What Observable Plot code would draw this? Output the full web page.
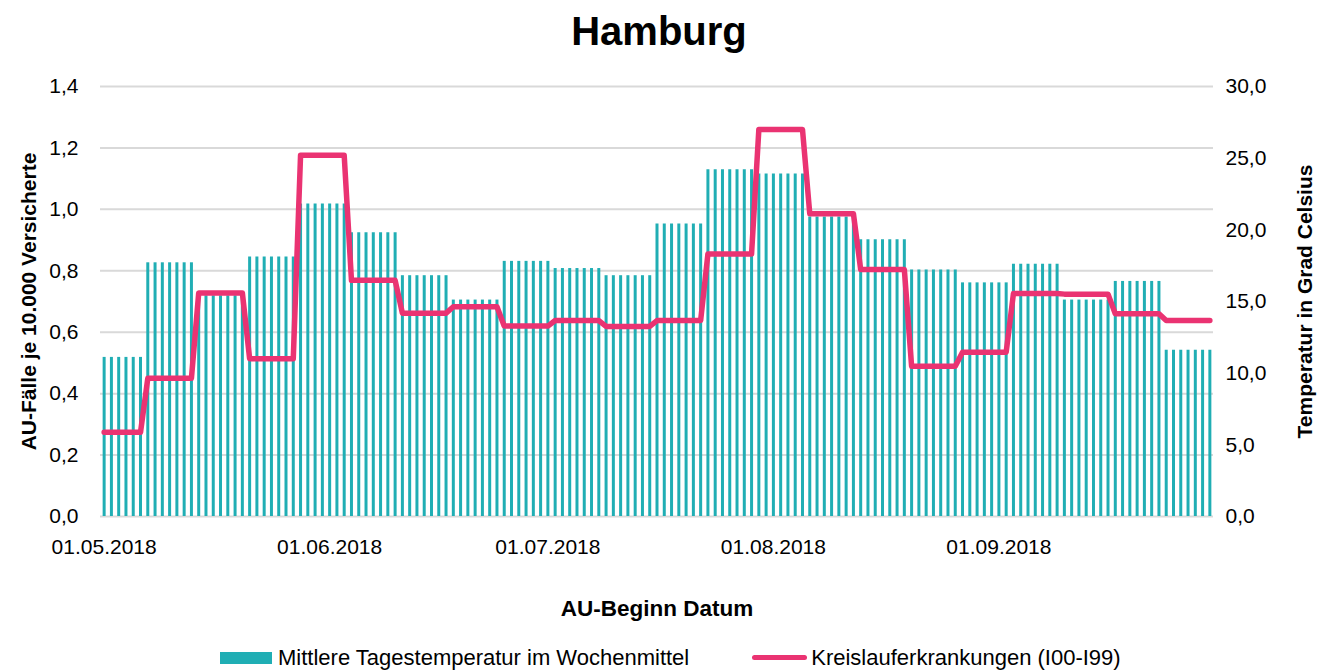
<!DOCTYPE html>
<html><head><meta charset="utf-8">
<script src="https://cdn.jsdelivr.net/npm/d3@7"></script>
<script src="https://cdn.jsdelivr.net/npm/@observablehq/plot@0.6"></script>
<style>
body{margin:0;background:#fff;font-family:"Liberation Sans",Arial,sans-serif;color:#000;}
#title{height:60px;text-align:center;font-weight:bold;font-size:40px;line-height:62px;}
#chart{height:575px;}
#legend{display:flex;justify-content:flex-start;align-items:center;font-size:22px;height:37px;padding-left:220px;margin-top:4px;}
.item{display:flex;align-items:center;}
.sw1{width:52px;height:12px;background:#20aeb4;margin-right:6px;}
.sw2{width:55px;height:5px;border-radius:3px;background:#ea3372;margin-right:4px;}
</style></head><body>
<div id="title">Hamburg</div>
<div id="chart"></div>
<div id="legend">
  <div class="item" style="margin-right:63px"><div class="sw1"></div><span>Mittlere Tagestemperatur im Wochenmittel</span></div>
  <div class="item"><div class="sw2"></div><span>Kreislauferkrankungen (I00-I99)</span></div>
</div>
<script>
// Weekly data (week start dates, Mon-Sun; first week starts Tue 01.05.2018)
const weekStarts = ["2018-05-01","2018-05-07","2018-05-14","2018-05-21","2018-05-28","2018-06-04","2018-06-11","2018-06-18","2018-06-25","2018-07-02","2018-07-09","2018-07-16","2018-07-23","2018-07-30","2018-08-06","2018-08-13","2018-08-20","2018-08-27","2018-09-03","2018-09-10","2018-09-17","2018-09-24"];
const temperature = [11.1,17.7,15.4,18.1,21.8,19.8,16.8,15.1,17.8,17.3,16.8,20.4,24.2,23.9,20.9,19.3,17.2,16.3,17.6,15.1,16.4,11.6];
const auFaelle = [0.274,0.450,0.728,0.514,1.176,0.769,0.662,0.683,0.620,0.638,0.619,0.638,0.855,1.260,0.986,0.804,0.489,0.535,0.726,0.724,0.660,0.638];
const startDate = "2018-05-01";
const endDate = "2018-09-30";
const xTicks = ["2018-05-01","2018-06-01","2018-07-01","2018-08-01","2018-09-01"];
const yTicks = [0,0.2,0.4,0.6,0.8,1.0,1.2,1.4];
const tTicks = [0,5,10,15,20,25,30];
const yMax = 1.4, tMax = 30;

const parse = d3.utcParse("%Y-%m-%d");
const weekDates = weekStarts.map(parse);
const days = d3.utcDay.range(parse(startDate), d3.utcDay.offset(parse(endDate), 1));
const daily = days.map(d => {
  const w = d3.bisectRight(weekDates, d) - 1;
  return {date: d, temp: temperature[w], au: auFaelle[w]};
});
const fmt = v => v.toFixed(1).replace(".", ",");
const teal = "#20aeb4", pink = "#ea3372";
const toY = t => t * yMax / tMax;

const chart = Plot.plot({
  width: 1318, height: 575,
  marginLeft: 100, marginRight: 105, marginTop: 26, marginBottom: 119,
  style: {fontFamily: '"Liberation Sans",Arial,sans-serif', fontSize: "21px", color: "#000", background: "#fff"},
  x: {type: "utc", domain: [d3.utcHour.offset(parse(startDate), -12), d3.utcHour.offset(parse(endDate), 12)]},
  y: {domain: [0, yMax]},
  marks: [
    Plot.gridY(yTicks, {stroke: "#d9d9d9", strokeOpacity: 1, strokeWidth: 2}),
    Plot.ruleX(daily, {x: "date", y1: 0, y2: d => toY(d.temp), stroke: teal, strokeWidth: 3}),
    Plot.line(daily, {x: "date", y: "au", stroke: pink, strokeWidth: 5.5, strokeLinejoin: "round", strokeLinecap: "round"}),
    Plot.axisY(yTicks, {anchor: "left", tickSize: 0, tickPadding: 22, tickFormat: fmt, label: null}),
    Plot.axisY(tTicks.map(toY), {anchor: "right", tickSize: 0, tickPadding: 12, tickFormat: d => fmt(d * tMax / yMax), label: null}),
    Plot.axisX(xTicks.map(parse), {tickSize: 0, tickPadding: 23, tickFormat: d3.utcFormat("%d.%m.%Y"), label: null}),
    Plot.text(["AU-Fälle je 10.000 Versicherte"], {frameAnchor: "left", rotate: -90, dx: -71, textAnchor: "middle", fontWeight: "bold", fontSize: 21}),
    Plot.text(["Temperatur in Grad Celsius"], {frameAnchor: "right", rotate: -90, dx: 92, textAnchor: "middle", fontWeight: "bold", fontSize: 21}),
    Plot.text(["AU-Beginn Datum"], {frameAnchor: "bottom", dy: 99, fontWeight: "bold", fontSize: 22.5})
  ]
});
document.getElementById("chart").appendChild(chart);
</script>
</body></html>
